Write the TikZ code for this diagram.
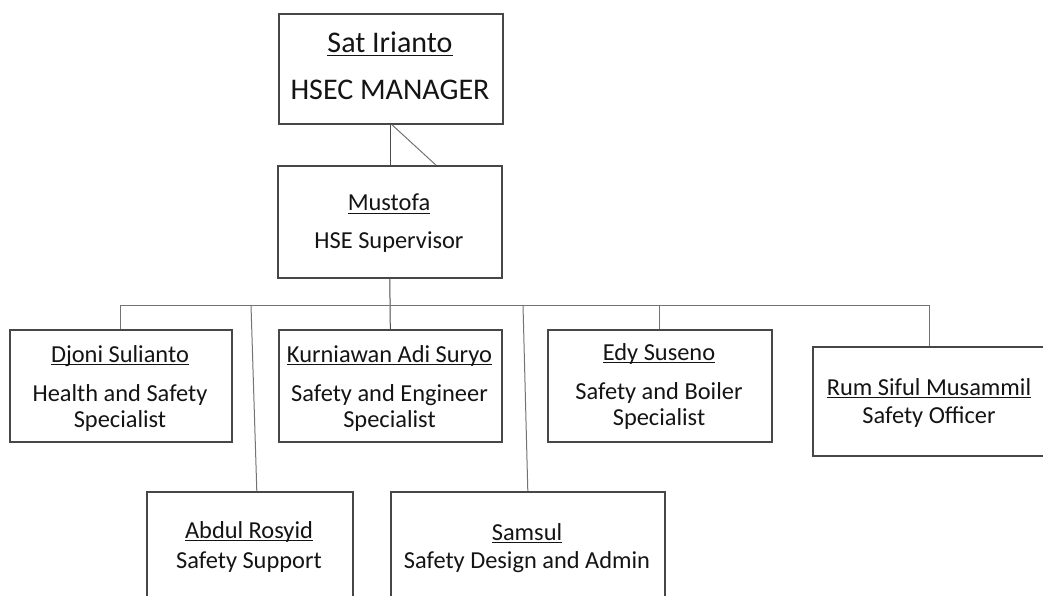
\documentclass[tikz,border=0pt]{standalone}
\usepackage{fontspec}
\setmainfont{Carlito}
\newcommand{\myul}[1]{\setbox0\hbox{#1}\rlap{\rule[-3.2pt]{\wd0}{1.2pt}}\box0}
\begin{document}
\begin{tikzpicture}[x=1pt,y=-1pt,
  box/.style={draw=black!72, line width=1.6pt, rectangle, inner sep=0pt, anchor=north west},
  lbl/.style={anchor=base, inner sep=0pt, text=black!92, font=\fontsize{24.4}{28}\selectfont},
  big/.style={lbl, font=\fontsize{30}{34}\selectfont},
  link/.style={draw=black!55, line width=1pt}]
\useasboundingbox (0,0) rectangle (1043,596);
\clip (0,0) rectangle (1043,596);
% boxes
\node[box, minimum width=224pt, minimum height=110pt] (top) at (278,13) {};
\node[box, minimum width=224pt, minimum height=112pt] (mus) at (277,165) {};
\node[box, minimum width=222pt, minimum height=112pt] (djo) at (9,329) {};
\node[box, minimum width=223pt, minimum height=112pt] (kur) at (278,329) {};
\node[box, minimum width=224pt, minimum height=112pt] (edy) at (547,329) {};
\node[box, minimum width=234pt, minimum height=109pt] (rum) at (812,346) {};
\node[box, minimum width=206pt, minimum height=140pt] (abd) at (146,491) {};
\node[box, minimum width=274pt, minimum height=140pt] (sam) at (390,491) {};
% texts
\node[big] (t1) at (390,53) {\myul{Sat Irianto}};
\node[big] (t2) at (390,100) {HSEC MANAGER};
\node[lbl] (m1) at (389,211) {\myul{Mustofa}};
\node[lbl] (m2) at (389,248) {HSE Supervisor};
\node[lbl] (d1) at (120,362) {\myul{Djoni Sulianto}};
\node[lbl] (d2) at (120,401) {Health and Safety};
\node[lbl] (d3) at (120,427) {Specialist};
\node[lbl] (k1) at (389.5,362) {\myul{Kurniawan Adi Suryo}};
\node[lbl] (k2) at (389.5,401) {Safety and Engineer};
\node[lbl] (k3) at (389.5,427) {Specialist};
\node[lbl] (e1) at (659,360) {\myul{Edy Suseno}};
\node[lbl] (e2) at (659,399) {Safety and Boiler};
\node[lbl] (e3) at (659,425) {Specialist};
\node[lbl] (r1) at (929,395) {\myul{Rum Siful Musammil}};
\node[lbl] (r2) at (929,423) {Safety Officer};
\node[lbl] (a1) at (249,538) {\myul{Abdul Rosyid}};
\node[lbl] (a2) at (249,568) {Safety Support};
\node[lbl] (s1) at (527,540) {\myul{Samsul}};
\node[lbl] (s2) at (527,568) {Safety Design and Admin};
% connectors
\coordinate (bus) at (0,305);
\coordinate (jA) at (251,305);
\coordinate (jS) at (523,305);
\draw[link, draw=black!70] (top.south) -- (top.south |- mus.north);
\draw[link] ([xshift=1pt]top.south) -- ([xshift=46pt]mus.north);
\draw[link, draw=black!70] (mus.south) -- (kur.north);
\draw[link] (djo.north) -- (djo.north |- bus) -- (rum.north |- bus) -- (rum.north);
\draw[link] (edy.north) -- (edy.north |- bus);
\draw[link] (jA) -- ([xshift=7pt]abd.north);
\draw[link] (jS) -- (sam.north);
\end{tikzpicture}
\end{document}
